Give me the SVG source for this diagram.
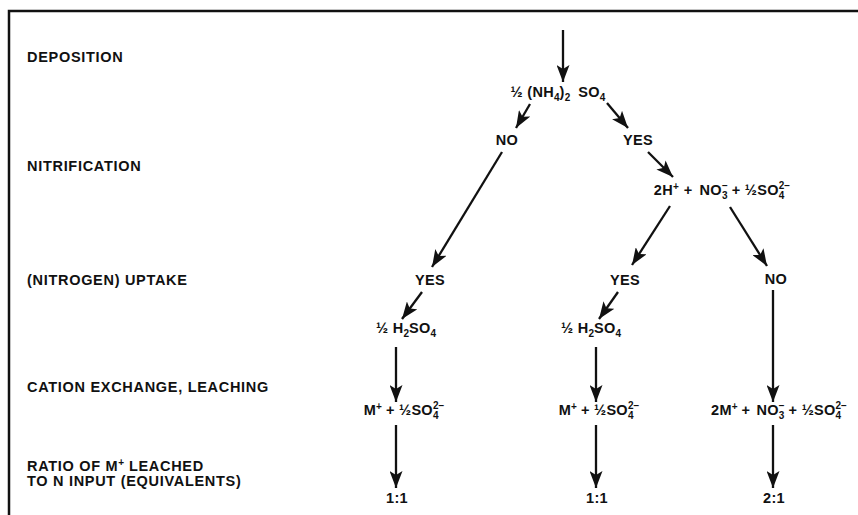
<svg xmlns="http://www.w3.org/2000/svg" width="858" height="515" viewBox="0 0 858 515">
<style>
.lbl{font-family:"Liberation Sans",Arial,Helvetica,sans-serif;font-weight:bold;font-size:14.5px;letter-spacing:0.7px;fill:#111}
.t{font-family:"Liberation Sans",Arial,Helvetica,sans-serif;font-weight:bold;font-size:14.5px;letter-spacing:0.3px;fill:#111}
.s{font-size:10px;letter-spacing:0px}
.c{stroke:#111;stroke-width:2.3;fill:none}
.m{text-anchor:middle}
</style>
<defs>
<marker id="ah" markerUnits="userSpaceOnUse" markerWidth="18" markerHeight="13" refX="17" refY="6.5" orient="auto">
<path d="M0,0 L17,6.5 L0,13 L4,6.5 z" fill="#111"/>
</marker>
</defs>
<rect width="858" height="515" fill="#fff"/>
<path d="M9,515 V11 H858" fill="none" stroke="#111" stroke-width="2.5"/>

<g id="row-labels">
<text class="lbl" x="27" y="62">DEPOSITION</text>
<text class="lbl" x="27" y="171">NITRIFICATION</text>
<text class="lbl" x="27" y="285">(NITROGEN) UPTAKE</text>
<text class="lbl" x="27" y="392">CATION EXCHANGE, LEACHING</text>
<text class="lbl" x="27" y="471">RATIO OF M<tspan class="s" dy="-5">+</tspan><tspan dy="5"> LEACHED</tspan></text>
<text class="lbl" x="27" y="486">TO N INPUT (EQUIVALENTS)</text>
</g>

<g id="connectors">
<line class="c" x1="563" y1="30" x2="563" y2="82" marker-end="url(#ah)"/>
<line class="c" x1="530" y1="104" x2="516" y2="128" marker-end="url(#ah)"/>
<line class="c" x1="607" y1="103" x2="628" y2="128" marker-end="url(#ah)"/>
<line class="c" x1="648" y1="152" x2="673" y2="177" marker-end="url(#ah)"/>
<line class="c" x1="502" y1="152" x2="432" y2="267" marker-end="url(#ah)"/>
<line class="c" x1="670" y1="206" x2="632" y2="265" marker-end="url(#ah)"/>
<line class="c" x1="730" y1="207" x2="767" y2="266" marker-end="url(#ah)"/>
<line class="c" x1="422" y1="292" x2="402" y2="319" marker-end="url(#ah)"/>
<line class="c" x1="618" y1="292" x2="599" y2="319" marker-end="url(#ah)"/>
<line class="c" x1="396" y1="347" x2="396" y2="402" marker-end="url(#ah)"/>
<line class="c" x1="596" y1="347" x2="596" y2="402" marker-end="url(#ah)"/>
<line class="c" x1="773" y1="290" x2="773" y2="402" marker-end="url(#ah)"/>
<line class="c" x1="396" y1="425" x2="396" y2="488" marker-end="url(#ah)"/>
<line class="c" x1="596" y1="425" x2="596" y2="488" marker-end="url(#ah)"/>
<line class="c" x1="773" y1="425" x2="773" y2="488" marker-end="url(#ah)"/>
</g>

<g id="ammonium-sulfate">
<text class="t m" x="558" y="97">½ (NH<tspan class="s" dy="4">4</tspan><tspan dy="-4">)</tspan><tspan class="s" dy="4">2</tspan><tspan dy="-4" dx="8">SO</tspan><tspan class="s" dy="4">4</tspan></text>
</g>
<g id="nitrif-no"><text class="t m" x="507" y="145">NO</text></g>
<g id="nitrif-yes"><text class="t m" x="638" y="145">YES</text></g>
<g id="nitrate">
<text class="t m" x="722" y="195">2H<tspan class="s" dy="-5">+</tspan><tspan dy="5" dx="5">+</tspan><tspan dx="7">NO</tspan><tspan class="s" dy="4">3</tspan><tspan class="s" dx="-5.6" dy="-10">−</tspan><tspan dy="6" dx="4">+ ½SO</tspan><tspan class="s" dy="4">4</tspan><tspan class="s" dx="-5.6" dy="-10">2−</tspan></text>
</g>
<g id="uptake-yes-1"><text class="t m" x="430" y="285">YES</text></g>
<g id="uptake-yes-2"><text class="t m" x="625" y="285">YES</text></g>
<g id="uptake-no-3"><text class="t m" x="776" y="284">NO</text></g>
<g id="acid-1">
<text class="t m" x="406" y="333">½ H<tspan class="s" dy="4">2</tspan><tspan dy="-4">SO</tspan><tspan class="s" dy="4">4</tspan></text>
</g>
<g id="acid-2">
<text class="t m" x="591" y="333">½ H<tspan class="s" dy="4">2</tspan><tspan dy="-4">SO</tspan><tspan class="s" dy="4">4</tspan></text>
</g>
<g id="leach-1">
<text class="t m" x="404" y="415">M<tspan class="s" dy="-5">+</tspan><tspan dy="5" dx="4">+ ½SO</tspan><tspan class="s" dy="4">4</tspan><tspan class="s" dx="-5.6" dy="-10">2−</tspan></text>
</g>
<g id="leach-2">
<text class="t m" x="599" y="415">M<tspan class="s" dy="-5">+</tspan><tspan dy="5" dx="4">+ ½SO</tspan><tspan class="s" dy="4">4</tspan><tspan class="s" dx="-5.6" dy="-10">2−</tspan></text>
</g>
<g id="leach-3">
<text class="t m" x="779" y="415">2M<tspan class="s" dy="-5">+</tspan><tspan dy="5" dx="4">+</tspan><tspan dx="6">NO</tspan><tspan class="s" dy="4">3</tspan><tspan class="s" dx="-5.6" dy="-10">−</tspan><tspan dy="6" dx="4">+ ½SO</tspan><tspan class="s" dy="4">4</tspan><tspan class="s" dx="-5.6" dy="-10">2−</tspan></text>
</g>
<g id="ratio-1"><text class="t m" x="397" y="503">1:1</text></g>
<g id="ratio-2"><text class="t m" x="597" y="503">1:1</text></g>
<g id="ratio-3"><text class="t m" x="774" y="503">2:1</text></g>
</svg>
